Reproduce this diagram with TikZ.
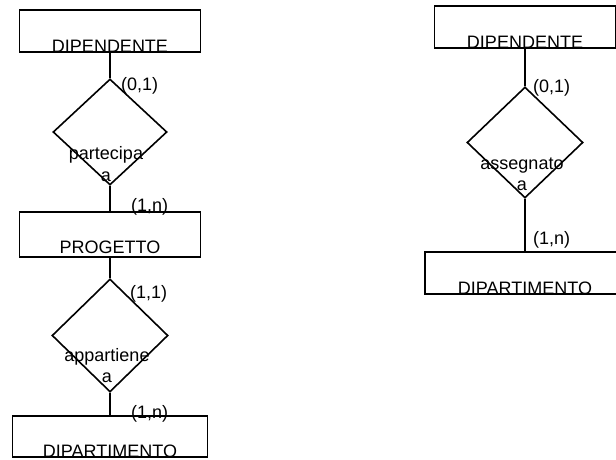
\documentclass[tikz,border=0pt]{standalone}
\usepackage{fontspec}
\setmainfont{Liberation Sans}
\usetikzlibrary{
    positioning,      % For placing nodes relative to each other
    shapes.geometric  % For the diamond shape
}

\begin{document}
\begin{tikzpicture}[
    % Global style settings
    x=1pt, y=-1pt, % Work in pixel-like units, y pointing down
    line_style/.style={
        black,
        line width=1.6pt
    },
    text_style/.style={ % Style for every text in the schema
        font=\fontsize{18}{21.5}\selectfont,
        inner sep=0pt
    },
    entity_style/.style={ % Boxes with the name sitting on the bottom edge
        line_style, draw, rectangle, text_style,
        text height=42pt, text depth=0pt
    },
    relation_style/.style={ % Empty diamonds, the name is set apart
        line_style, draw, diamond,
        inner sep=0pt
    },
    card_style/.style={ % Cardinality pairs next to the lines
        text_style,
        anchor=west
    }
]
    \useasboundingbox (0,0) rectangle (616,459);
    \clip (0,0) rectangle (616,459);

    % 1. Left schema: entities.
    \node[entity_style, minimum width=181pt] (dipendente_l) at (110,31) {DIPENDENTE};
    \node[entity_style, minimum width=181pt, text height=41pt, text depth=4pt] (progetto) at (110,234.5) {PROGETTO};
    \node[entity_style, minimum width=195pt, text height=41pt] (dipartimento_l) at (110,436.5) {DIPARTIMENTO};

    % 2. Left schema: relationships and their names.
    \node[relation_style, minimum width=114pt, minimum height=106pt] (partecipa) at (110,132) {};
    \node[text_style, align=center] (partecipa_text) at ([xshift=-4pt, yshift=-32pt]partecipa.center) {partecipa\\a};
    \node[relation_style, minimum width=116pt, minimum height=113pt] (appartiene) at (110,335.5) {};
    \node[text_style, align=center] (appartiene_text) at ([xshift=-3pt, yshift=-30pt]appartiene.center) {appartiene\\a};

    % 3. Left schema: connecting lines.
    \draw[line_style] (dipendente_l.south) -- (partecipa.north);
    \draw[line_style] (partecipa.south) -- (progetto.north);
    \draw[line_style] (progetto.south) -- (appartiene.north);
    \draw[line_style] (appartiene.south) -- (dipartimento_l.north);

    % 4. Left schema: cardinalities.
    \node[card_style] (card_partecipa_top) at (121,86) {(0,1)};
    \node[card_style] (card_partecipa_bottom) at (131,207) {(1,n)};
    \node[card_style] (card_appartiene_top) at (130,294) {(1,1)};
    \node[card_style] (card_appartiene_bottom) at (131,414) {(1,n)};

    % 5. Right schema: entities, relationship, lines and cardinalities.
    \node[entity_style, minimum width=181pt] (dipendente_r) at (525,27) {DIPENDENTE};
    \node[entity_style, minimum width=200pt] (dipartimento_r) at (525,273) {DIPARTIMENTO};
    \node[relation_style, minimum width=116pt, minimum height=111pt] (assegnato) at (525,142.5) {};
    \node[text_style, align=center] (assegnato_text) at ([xshift=-3pt, yshift=-32pt]assegnato.center) {assegnato\\a};

    \draw[line_style] (dipendente_r.south) -- (assegnato.north);
    \draw[line_style] (assegnato.south) -- (dipartimento_r.north);

    \node[card_style] (card_assegnato_top) at (533,88) {(0,1)};
    \node[card_style] (card_assegnato_bottom) at (533,240) {(1,n)};

\end{tikzpicture}
\end{document}
